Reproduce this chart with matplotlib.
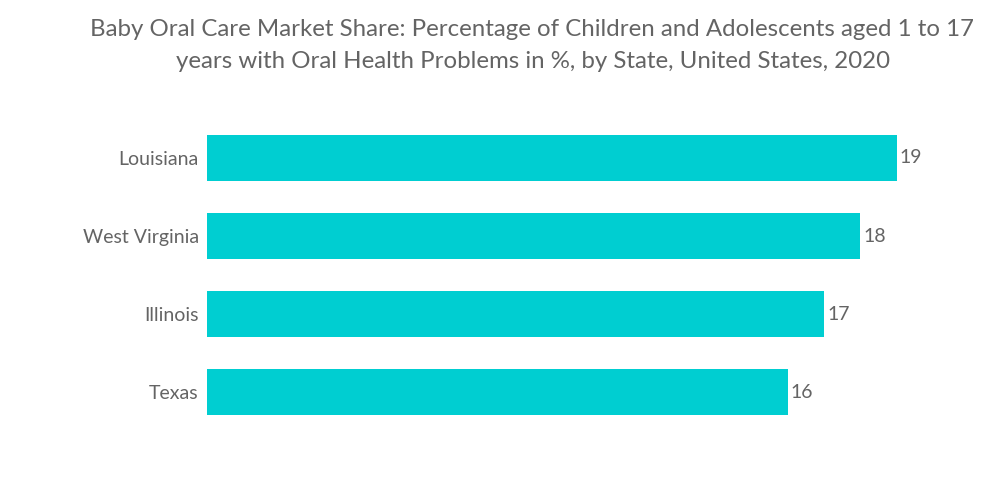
import matplotlib
matplotlib.use("Agg")
import matplotlib.pyplot as plt

categories = ["Louisiana", "West Virginia", "Illinois", "Texas"]
values = [19, 18, 17, 16]
title_lines = ["Baby Oral Care Market Share: Percentage of Children and Adolescents aged 1 to 17",
               "years with Oral Health Problems in %, by State, United States, 2020"]

plt.rcParams['font.family'] = ['Lato', 'DejaVu Sans']
text_color = "#646464"
bar_color = "#00CED1"

fig = plt.figure(figsize=(10, 5.04), dpi=100)
ax = fig.add_axes([0.207, 0.1448, 0.726, 0.6191])
ypos = list(range(len(categories)))
ax.barh(ypos, values, height=0.59, color=bar_color)
ax.set_xlim(0, 20)
ax.set_ylim(len(categories) - 0.5, -0.5)
ax.set_yticks(ypos)
ax.set_yticklabels(categories, fontsize=14, color=text_color)
ax.tick_params(axis='y', length=0, pad=6)
ax.set_xticks([])
for s in ax.spines.values():
    s.set_visible(False)
for y, v in zip(ypos, values):
    ax.text(v + 0.08, y, str(v), va='center', ha='left', fontsize=14,
            color=text_color)

for line, yf in zip(title_lines, [0.9405, 0.877]):
    fig.text(0.5325, yf, line, ha='center', va='center', fontsize=17.3,
             color=text_color)
fig.savefig("out.png", dpi=100)
